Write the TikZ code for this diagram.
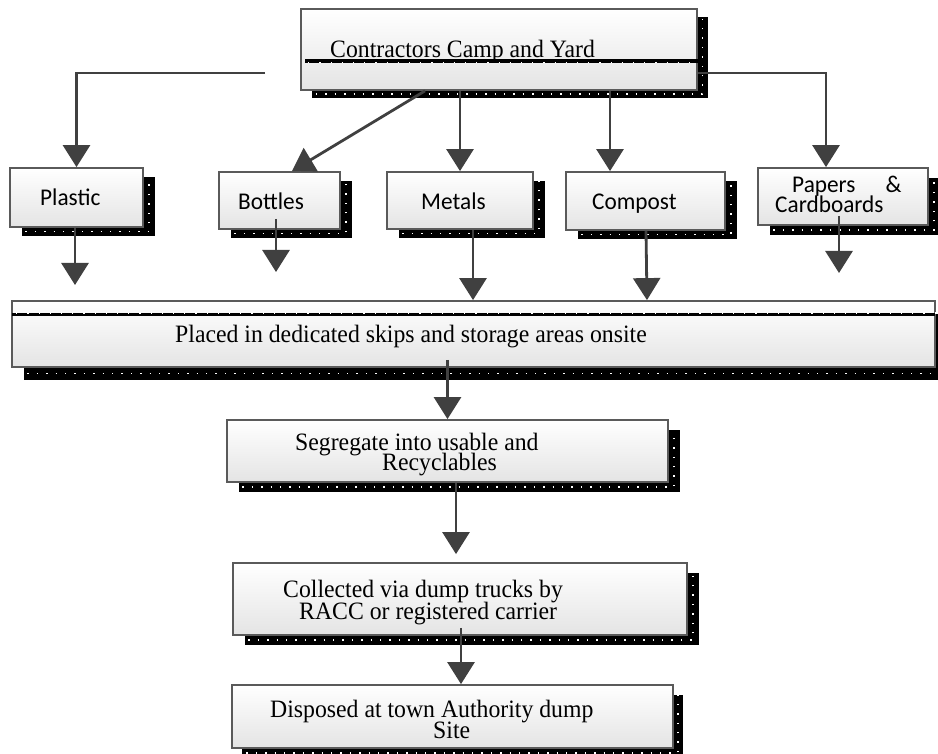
\documentclass[tikz,border=0pt]{standalone}
\usepackage{fontspec}
\setmainfont{Liberation Serif}[FakeStretch=0.95]
\newfontfamily\calfont{Carlito}[FakeStretch=0.97]
\usetikzlibrary{arrows.meta,shadows,calc}
\definecolor{boxgray}{HTML}{5A5A5A}
\definecolor{boxfill}{HTML}{E4E4E4}
\definecolor{arrgray}{HTML}{404040}
\newcommand\twol[4]{\vtop{\baselineskip=#1\lineskiplimit=-100pt\hbox{#3}\hbox{\hspace*{#2}#4}}}
\tikzset{
  box/.style 2 args={rectangle, draw=boxgray, line width=1.8pt, top color=white, bottom color=boxfill, inner sep=0pt,
    general shadow={fill=black, shadow xshift=#1pt, shadow yshift=-#2pt},
    general shadow={draw=white, line width=1.4pt, dash pattern=on 1.4pt off 8pt, shadow xshift=#1pt*0.5, shadow yshift=-#2pt*0.5}},
  arr/.style={draw=arrgray, line width=2.8pt, -{Triangle[width=27pt,length=22pt]}},
  band/.style={line width=3.5pt, black},
  bandots/.style={line width=1.2pt, white, dash pattern=on 1.2pt off 10pt},
  serif/.style={font=\fontsize{25}{21}\selectfont, inner sep=0pt, anchor=base west},
  sans/.style={font=\calfont\fontsize{24}{20}\selectfont, inner sep=0pt, anchor=base west},
}
\begin{document}
\begin{tikzpicture}[x=1pt,y=-1pt]
\useasboundingbox[fill=white] (0,0) rectangle (938,754);
% boxes
\node[box={11}{8}, minimum width=396pt, minimum height=81pt] (top) at (499,49.5) {};
\node[box={12}{9}, minimum width=133pt, minimum height=59pt] (plastic) at (76.5,197.5) {};
\node[box={12}{9}, minimum width=121pt, minimum height=57pt] (bottles) at (279.5,200.5) {};
\node[box={12}{9}, minimum width=146pt, minimum height=57pt] (metals) at (460,200.5) {};
\node[box={12}{9}, minimum width=159pt, minimum height=58pt] (compost) at (645.5,201) {};
\node[box={12}{10}, minimum width=170pt, minimum height=57pt] (papers) at (843,196.5) {};
\node[box={12}{13}, minimum width=923pt, minimum height=66pt] (placed) at (473.5,334) {};
\node[box={12}{10}, minimum width=441pt, minimum height=62pt] (segregate) at (447.5,451) {};
\node[box={12}{10}, minimum width=454pt, minimum height=72pt] (collected) at (460,599) {};
\node[box={10}{10}, minimum width=441pt, minimum height=63pt] (disposed) at (452.5,716.5) {};
% black bands inside boxes
\draw[band] ($(top.west)+(5,11.5)$) -- (top.east |- 0,61);
\draw[bandots] ($(top.west)+(8,13)$) -- (top.east |- 0,62.5);
\draw[band] ($(placed.north west)+(1,14.5)$) -- ($(placed.north east)+(-1,14.5)$);
\draw[bandots] ($(placed.north west)+(5,13)$) -- ($(placed.north east)+(-1,13)$);
% texts
\node[serif] (ttop) at (330,58) {Contractors Camp and Yard};
\node[sans] (tplastic) at (40,206) {Plastic};
\node[sans] (tbottles) at (238,210) {Bottles};
\node[sans] (tmetals) at (421,210) {Metals};
\node[sans] (tcompost) at (592,210) {Compost};
\node[sans] (tpapers) at (775,193) {\twol{20pt}{0pt}{\hspace*{17pt}Papers\hspace{30pt}\&}{Cardboards}};
\node[serif] (tplaced) at (175,342) {Placed in dedicated skips and storage areas onsite};
\node[serif] (tseg) at (295,450) {\twol{20pt}{87pt}{Segregate into usable and}{Recyclables}};
\node[serif] (tcol) at (283,597) {\twol{22pt}{16pt}{Collected via dump trucks by}{RACC or registered carrier}};
\node[serif] (tdis) at (270,717) {\twol{21pt}{163pt}{Disposed at town Authority dump}{Site}};
% connectors
\coordinate (lstart) at (265,73);
\draw[arr] (lstart) -| (plastic.north);
\draw[arr] (top.east |- lstart) -| ($(papers.north)+(-17,0)$);
\draw[arr] (top.south -| 425,0) -- (bottles.north -| 292,0);
\draw[arr] (top.south -| metals.north) -- (metals.north);
\draw[arr] (top.south -| 610,0) -- (compost.north -| 610,0);
\coordinate (plend) at (75,285);
\draw[arr] (plastic.south -| plend) -- (plend);
\coordinate (boend) at (276,272);
\draw[arr] ($(bottles.south)+(-3.5,-11)$) -- (boend);
\draw[arr] (metals.south -| 473,0) -- (placed.north -| 473,0);
\draw[arr] (compost.south -| 646,0) -- (placed.north -| 647,0);
\coordinate (paend) at (839,273);
\draw[arr] ($(papers.south)+(-4,-10)$) -- (paend);
\draw[arr] ($(placed.south -| segregate.north)+(0,-8)$) -- (segregate.north);
\draw[arr, shorten >=8pt] (segregate.south -| 456,0) -- (collected.north -| 456,0);
\draw[arr] ($(collected.south -| 461,0)+(0,-8)$) -- (disposed.north -| 461,0);
\end{tikzpicture}
\end{document}
